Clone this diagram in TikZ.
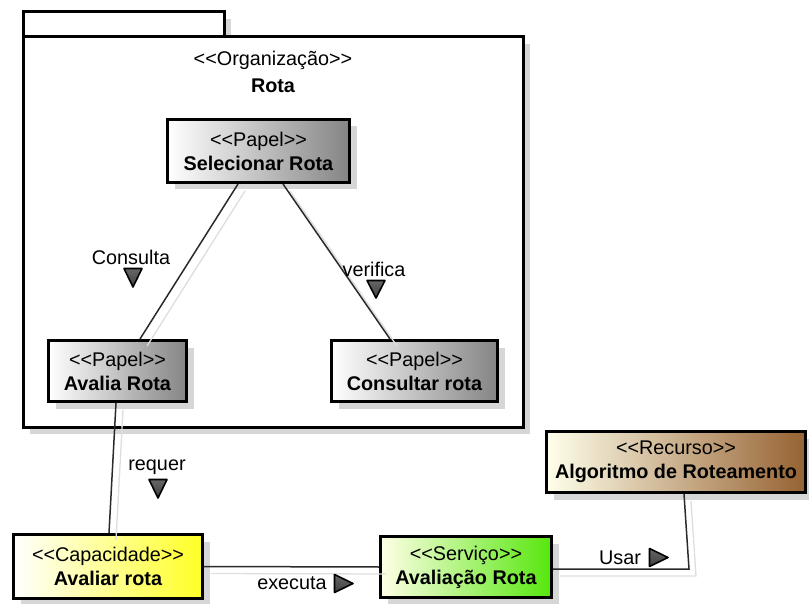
\documentclass[tikz,border=0pt]{standalone}
\usepackage{fontspec}
\setmainfont{Liberation Sans}
\usetikzlibrary{shadows}
\newcommand\sopen{<\kern0pt<}
\newcommand\sclose{>\kern0pt>}
\definecolor{shad}{HTML}{D6D6D6}
\definecolor{lnk}{HTML}{2A2A2A}
\begin{document}
\begin{tikzpicture}[x=1pt,y=-1pt,
  boxbase/.style={draw=black, line width=3pt, align=center, inner sep=2pt,
    font=\fontsize{19.8}{24}\selectfont,
    drop shadow={shadow xshift=7pt, shadow yshift=-7pt, fill=shad, opacity=1}},
  papel/.style={boxbase, left color=white, right color=black!48},
  capac/.style={boxbase, left color=white, right color=yellow!85!white},
  servico/.style={boxbase, left color=white!90!yellow, right color=green!55!lime!90!black!95},
  recurso/.style={boxbase, left color=yellow!8!white, right color={rgb,255:red,150;green,98;blue,50}},
  link/.style={draw=lnk, line width=1.5pt},
  linkshadow/.style={draw=shad!80!white, line width=1.3pt},
  lbl/.style={font=\fontsize{19.8}{24}\selectfont, inner sep=0pt},
  tri/.style={draw=black, line width=1.6pt, top color=gray!80!black, bottom color=black!75, line join=round}
]
\useasboundingbox (0,0) rectangle (809,604);

% package shadow
\fill[shad] (224,19) rectangle (231,37);
\fill[shad] (30,427) rectangle (530,434);
\fill[shad] (523,44) rectangle (530,434);
% package
\draw[line width=3pt, fill=white] (23,12) rectangle (224,37);
\draw[line width=3pt, fill=white] (23,37) rectangle (523,427);
\node[lbl] (orgst) at (273,60) {\sopen Organização\sclose};
\node[lbl, font=\fontsize{19.8}{24}\selectfont\bfseries] (orgname) at (273,86) {Rota};

% nodes
\node[papel, minimum width=182, minimum height=63] (sel) at (258.5,151) {\sopen Papel\sclose\\\textbf{Selecionar Rota}};
\node[papel, minimum width=138, minimum height=61] (aval) at (117.5,371) {\sopen Papel\sclose\\\textbf{Avalia Rota}};
\node[papel, minimum width=166, minimum height=61] (cons) at (414.5,371) {\sopen Papel\sclose\\\textbf{Consultar rota}};
\node[capac, minimum width=189, minimum height=64] (cap) at (108,566.5) {\sopen Capacidade\sclose\\\textbf{Avaliar rota}};
\node[servico, minimum width=171, minimum height=61] (serv) at (466,567) {\sopen Serviço\sclose\\\textbf{Avaliação Rota}};
\node[recurso, minimum width=259, minimum height=61] (rec) at (676,462) {\sopen Recurso\sclose\\\textbf{Algoritmo de Roteamento}};

\coordinate (bend) at (689,569);

% connector shadows
\begin{scope}[transform canvas={shift={(7pt,-7pt)}}]
\draw[linkshadow] ([xshift=-20.5pt]sel.south) -- ([xshift=22.5pt]aval.north);
\draw[linkshadow] ([xshift=24.5pt]sel.south) -- ([xshift=-24.5pt]cons.north);
\draw[linkshadow] ([xshift=-1.5pt]aval.south) -- ([xshift=1pt]cap.north);
\draw[linkshadow] (cap.east) -- (serv.west);
\draw[linkshadow] ([xshift=8pt]rec.south) -- (bend) -- ([yshift=-2pt]serv.east);
\end{scope}

% connectors
\draw[link] ([xshift=-20.5pt]sel.south) -- ([xshift=22.5pt]aval.north);
\draw[link] ([xshift=24.5pt]sel.south) -- ([xshift=-24.5pt]cons.north);
\draw[link] ([xshift=-1.5pt]aval.south) -- ([xshift=1pt]cap.north);
\draw[link] (cap.east) -- (serv.west);
\draw[link] ([xshift=8pt]rec.south) -- (bend) -- ([yshift=-2pt]serv.east);

% labels
\node[lbl] (l1) at (131,257) {Consulta};
\draw[tri] (124,268.5) -- (142,268.5) -- (133,287) -- cycle;
\node[lbl] (l2) at (374,269) {verifica};
\draw[tri] (367,280.5) -- (385,280.5) -- (376,298) -- cycle;
\node[lbl] (l3) at (157,467) {requer};
\draw[tri] (149,479.5) -- (167,479.5) -- (158,498) -- cycle;
\node[lbl] (l4) at (292,583) {executa};
\draw[tri] (334.5,574.5) -- (334.5,592.5) -- (353,583.5) -- cycle;
\node[lbl] (l5) at (620,558) {Usar};
\draw[tri] (649.5,548.5) -- (649.5,566.5) -- (668,557.5) -- cycle;
\end{tikzpicture}
\end{document}
